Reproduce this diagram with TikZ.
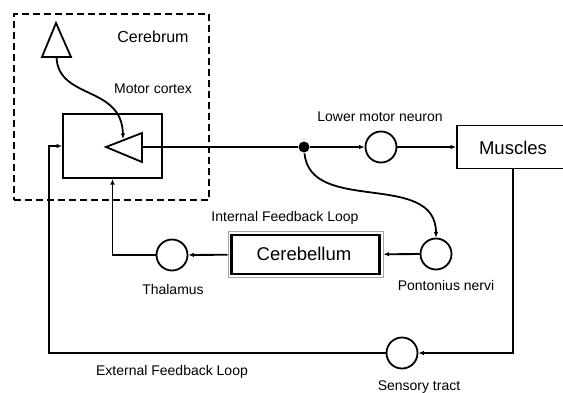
\documentclass[tikz,border=0pt]{standalone}
\usepackage{fontspec}
\setmainfont{Liberation Sans}
\usetikzlibrary{arrows.meta}
\begin{document}
\begin{tikzpicture}[x=1pt,y=-1pt,
  line width=1.8pt,
  arr/.style={-{Latex[length=5.5pt,width=4.5pt]}},
  neuron/.style={circle,draw,minimum size=31pt,inner sep=0pt},
  lbl/.style={font=\fontsize{14}{16}\selectfont, inner sep=0pt},
  biglbl/.style={font=\fontsize{18.5}{21}\selectfont, inner sep=0pt},
]
\useasboundingbox (0,0) rectangle (563,392);
\clip (0,0) rectangle (563,392);
\fill[white] (0,0) rectangle (563,392);

% Cerebrum dashed region
\node[draw, dash pattern=on 7pt off 4pt, minimum width=195pt, minimum height=186pt, inner sep=0pt] (cere) at (111.5,107) {};
\node[font=\fontsize{16}{18}\selectfont, inner sep=0pt] (cerelbl) at (153,37) {Cerebrum};
\node[lbl] (mclbl) at (153,89) {Motor cortex};

% Motor cortex box
\node[draw, line width=2pt, minimum width=99pt, minimum height=64pt, inner sep=0pt] (mc) at (112.5,146) {};

% top triangle
\coordinate (ua) at (56,23);
\coordinate (ub1) at (42,57);
\coordinate (ub2) at (71,57);
\coordinate (um) at (56.5,57);
\draw (ua) -- (ub1) -- (ub2) -- cycle;

% inner triangle (pointing left)
\coordinate (ta) at (106,147);
\coordinate (tb1) at (142,133);
\coordinate (tb2) at (142,162);
\coordinate (tbm) at (142,147);
\coordinate (tt) at (123,139);
\draw (ta) -- (tb1) -- (tb2) -- cycle;

% dot, lower motor neuron, muscles
\node[circle, fill, inner sep=0pt, minimum size=11pt] (dot) at (304,147) {};
\node[neuron] (lmn) at (381,147) {};
\node[lbl] (lmnlbl) at (380,117) {Lower motor neuron};
\node[draw, minimum width=118pt, minimum height=43pt, inner sep=0pt] (mus) at (516,147) {};
\node[biglbl] (muslbl) at (513,148) {Muscles};

% internal loop
\node[lbl] (intlbl) at (285,218) {Internal Feedback Loop};
\node[draw=gray!70, line width=1pt, minimum width=155pt, minimum height=46pt, inner sep=0pt] (cbo) at (305.5,254.5) {};
\node[draw, line width=2.4pt, minimum width=148pt, minimum height=39pt, inner sep=0pt] (cb) at (305.5,254.5) {};
\node[biglbl] (cblbl) at (304,254) {Cerebellum};
\node[neuron] (thal) at (172,255) {};
\node[lbl] (thallbl) at (173,289) {Thalamus};
\node[neuron] (pont) at (436,254) {};
\node[lbl] (pontlbl) at (446,285) {Pontonius nervi};

% external loop
\node[neuron] (sens) at (402,353) {};
\node[lbl] (senslbl) at (419,387) {Sensory tract};
\node[lbl] (extlbl) at (172,372) {External Feedback Loop};
\coordinate (rc) at (513,353);
\coordinate (lc) at (49,353);

% connectors
\draw[arr] (um) .. controls (58,100) and (122,85) .. (tt);
\draw (tbm) -- (dot);
\draw[arr] (dot) -- (lmn);
\draw[arr] (lmn) -- (mus);
\draw[arr] (dot) .. controls (310,215) and (436,170) .. (pont.north);
\draw[arr] (pont) -- (cbo);
\draw[arr] (cbo) -- (thal);
\draw[arr] (thal) -| (mc.south);
\draw[arr] (mus.south -| rc) -- (rc) -- (sens);
\draw[arr] (sens) -- (lc) |- (mc.west);
\end{tikzpicture}
\end{document}
